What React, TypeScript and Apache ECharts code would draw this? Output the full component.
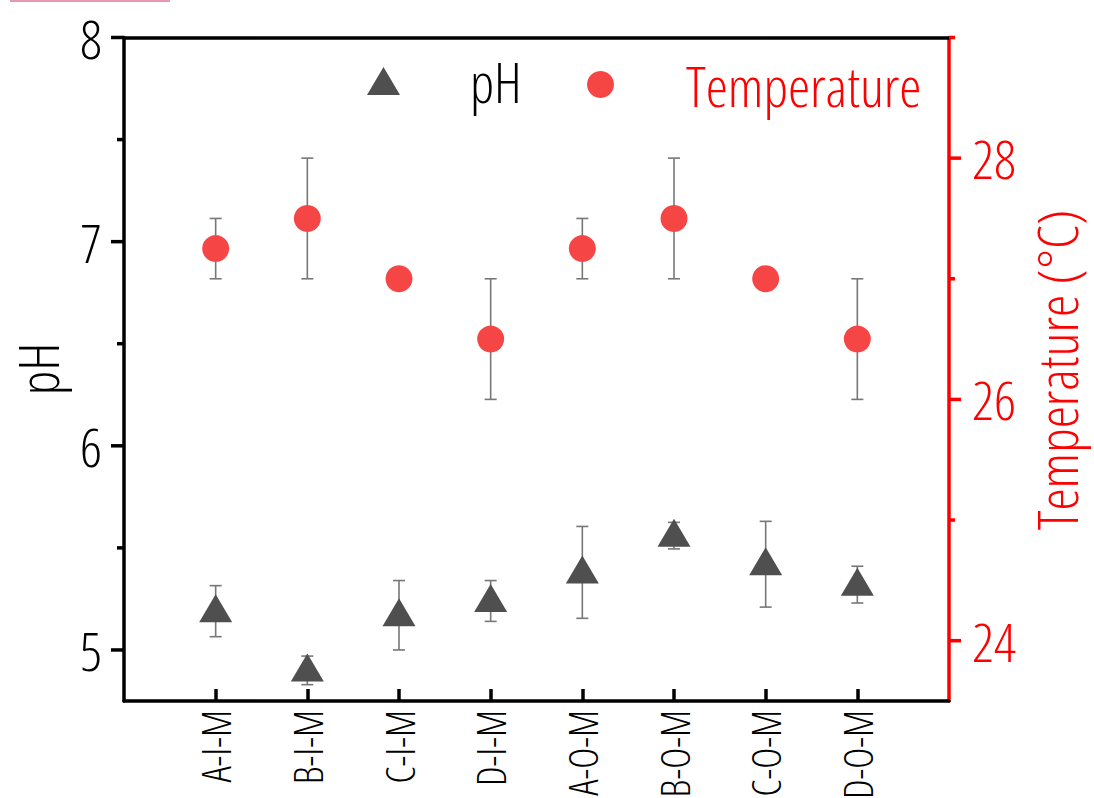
import React, { useEffect, useRef } from "react";
import * as echarts from "echarts";

// Sample groups along the x axis
const CATEGORIES = ["A-I-M", "B-I-M", "C-I-M", "D-I-M", "A-O-M", "B-O-M", "C-O-M", "D-O-M"];

// pH mean and standard deviation per group
const PH_VALUES = [5.19, 4.9, 5.17, 5.24, 5.38, 5.56, 5.42, 5.32];
const PH_ERRORS = [0.125, 0.07, 0.17, 0.1, 0.225, 0.065, 0.21, 0.09];

// Temperature (°C) mean and standard deviation per group
const TEMP_VALUES = [27.25, 27.5, 27.0, 26.5, 27.25, 27.5, 27.0, 26.5];
const TEMP_ERRORS = [0.25, 0.5, 0, 0.5, 0.25, 0.5, 0, 0.5];

// Axis ticks
const PH_MAJOR_TICKS = [5, 6, 7, 8];
const PH_MINOR_TICKS = [5.5, 6.5, 7.5];
const TEMP_MAJOR_TICKS = [24, 26, 28];
const TEMP_MINOR_TICKS = [25, 27, 29];

// Axis titles
const PH_TITLE = "pH";
const TEMP_TITLE = "Temperature (°C)";

// Light, condensed sans for every text
const FONT = "'Open Sans', 'DejaVu Sans Condensed', sans-serif";
const WEIGHT = "300;font-stretch:75%";
const RED = "#ff0000";
const PH_COLOR = "#4f4f4f";
const TEMP_COLOR = "#f64545";
const ERR_COLOR = "#777777";

export default function App() {
  const ref = useRef<HTMLDivElement>(null);

  useEffect(() => {
    if (!ref.current) return;
    const chart = echarts.init(ref.current, undefined, { renderer: "svg" });

    const xData = ["", ...CATEGORIES, ""];

    const errorBars = (values: number[], errors: number[]) =>
      values.map((v, i) => [i + 1, v, errors[i]]);

    const renderError = (_params: any, api: any) => {
      const x = api.value(0);
      const v = api.value(1);
      const e = api.value(2);
      if (!e) return null;
      const top = api.coord([x, v + e]);
      const bot = api.coord([x, v - e]);
      const cap = 6;
      const style = { stroke: ERR_COLOR, lineWidth: 1.6 };
      return {
        type: "group",
        children: [
          { type: "line", shape: { x1: top[0], y1: top[1], x2: bot[0], y2: bot[1] }, style },
          { type: "line", shape: { x1: top[0] - cap, y1: top[1], x2: top[0] + cap, y2: top[1] }, style },
          { type: "line", shape: { x1: bot[0] - cap, y1: bot[1], x2: bot[0] + cap, y2: bot[1] }, style },
        ],
      };
    };

    const tickData = (major: number[], minor: number[]) => [
      ...major.map((v) => [0, v, 1]),
      ...minor.map((v) => [0, v, 0]),
    ];

    const renderTick = (side: "left" | "right", color: string, majorLen: number, minorLen: number) =>
      (params: any, api: any) => {
        const cs = params.coordSys;
        const y = api.coord([0, api.value(1)])[1];
        const len = api.value(2) ? majorLen : minorLen;
        const x0 = side === "left" ? cs.x : cs.x + cs.width;
        const x1 = side === "left" ? x0 - len : x0 + len;
        return {
          type: "line",
          shape: { x1: x0, y1: y, x2: x1, y2: y },
          style: { stroke: color, lineWidth: 3.5 },
        };
      };

    // Light, condensed text style
    const txt = (size: number, color: string) => ({
      fontSize: size,
      color,
      fontFamily: FONT,
      fontWeight: WEIGHT,
    });

    // Vertical axis title, reading bottom to top
    const axisTitle = (text: string, x: number, y: number, size: number, color: string) => ({
      type: "text",
      x,
      y,
      rotation: Math.PI / 2,
      silent: true,
      style: {
        text,
        fill: color,
        fontSize: size,
        fontFamily: FONT,
        fontWeight: WEIGHT,
        align: "center",
        verticalAlign: "middle",
        textAlign: "center",
        textVerticalAlign: "middle",
      },
    });

    chart.setOption({
      animation: false,
      backgroundColor: "#ffffff",
      textStyle: { fontFamily: FONT },
      grid: { left: 124, right: 145, top: 37.5, bottom: 97, outerBoundsMode: "none", containLabel: false },
      legend: [
        {
          data: [{ name: "pH", icon: "triangle" }],
          left: 362,
          top: 62,
          itemWidth: 33,
          itemHeight: 28,
          textStyle: { ...txt(55, "#000"), padding: [0, 0, 0, 65] },
        },
        {
          data: [{ name: "Temperature", icon: "circle" }],
          left: 582,
          top: 66,
          itemWidth: 27,
          itemHeight: 27,
          textStyle: { ...txt(56, RED), padding: [0, 0, 0, 67] },
        },
      ],
      xAxis: [
        {
          type: "category",
          data: xData,
          boundaryGap: false,
          axisLine: { lineStyle: { color: "#000", width: 3.5 } },
          axisTick: {
            inside: true,
            length: 12,
            lineStyle: { color: "#000", width: 3.5 },
            interval: (index: number) => index > 0 && index < xData.length - 1,
          },
          axisLabel: { rotate: 90, margin: 9, interval: 0, ...txt(40, "#000") },
          splitLine: { show: false },
        },
        {
          type: "category",
          data: xData,
          boundaryGap: false,
          position: "top",
          axisLine: { lineStyle: { color: "#000", width: 3.5 } },
          axisTick: { show: false },
          axisLabel: { show: false },
        },
      ],
      yAxis: [
        {
          type: "value",
          min: 4.75,
          max: 8,
          interval: 0.25,
          axisLine: { show: true, lineStyle: { color: "#000", width: 3.5 } },
          axisTick: { show: false },
          splitLine: { show: false },
          axisLabel: {
            margin: 22,
            ...txt(54, "#000"),
            formatter: (v: number) => (PH_MAJOR_TICKS.includes(v) ? String(v) : ""),
          },
        },
        {
          type: "value",
          min: 23.5,
          max: 29,
          interval: 0.5,
          position: "right",
          axisLine: { show: true, lineStyle: { color: RED, width: 3.5 } },
          axisTick: { show: false },
          splitLine: { show: false },
          axisLabel: {
            margin: 23,
            ...txt(54, RED),
            formatter: (v: number) => (TEMP_MAJOR_TICKS.includes(v) ? String(v) : ""),
          },
        },
      ],
      series: [
        {
          name: "pH ticks",
          type: "custom",
          xAxisIndex: 0,
          yAxisIndex: 0,
          clip: false,
          silent: true,
          z: 5,
          data: tickData(PH_MAJOR_TICKS, PH_MINOR_TICKS),
          renderItem: renderTick("left", "#000", 13, 7),
        },
        {
          name: "Temperature ticks",
          type: "custom",
          xAxisIndex: 0,
          yAxisIndex: 1,
          clip: false,
          silent: true,
          z: 5,
          data: tickData(TEMP_MAJOR_TICKS, TEMP_MINOR_TICKS),
          renderItem: renderTick("right", RED, 12, 6),
        },
        {
          name: "pH error",
          type: "custom",
          xAxisIndex: 0,
          yAxisIndex: 0,
          z: 1,
          encode: { x: 0, y: 1 },
          data: errorBars(PH_VALUES, PH_ERRORS),
          renderItem: renderError,
        },
        {
          name: "Temperature error",
          type: "custom",
          xAxisIndex: 0,
          yAxisIndex: 1,
          z: 1,
          encode: { x: 0, y: 1 },
          data: errorBars(TEMP_VALUES, TEMP_ERRORS),
          renderItem: renderError,
        },
        {
          name: "pH",
          type: "scatter",
          xAxisIndex: 0,
          yAxisIndex: 0,
          z: 3,
          symbol: "triangle",
          symbolSize: [33, 28],
          symbolOffset: [0, -3],
          itemStyle: { color: PH_COLOR, opacity: 1 },
          data: PH_VALUES.map((v, i) => [i + 1, v]),
        },
        {
          name: "Temperature",
          type: "scatter",
          xAxisIndex: 0,
          yAxisIndex: 1,
          z: 3,
          symbol: "circle",
          symbolSize: 27,
          itemStyle: { color: TEMP_COLOR, opacity: 1 },
          data: TEMP_VALUES.map((v, i) => [i + 1, v]),
        },
      ],
      graphic: [
        {
          type: "rect",
          left: 10,
          top: 0,
          shape: { width: 160, height: 2 },
          style: { fill: "#e897b0" },
        },
        axisTitle(PH_TITLE, 37, 369, 56, "#000"),
        axisTitle(TEMP_TITLE, 1056, 370, 56, RED),
      ],
    });

    return () => chart.dispose();
  }, []);

  return (
    <div
      ref={ref}
      style={{ position: "fixed", left: 0, top: 0, width: 1094, height: 798, background: "#fff" }}
    />
  );
}
